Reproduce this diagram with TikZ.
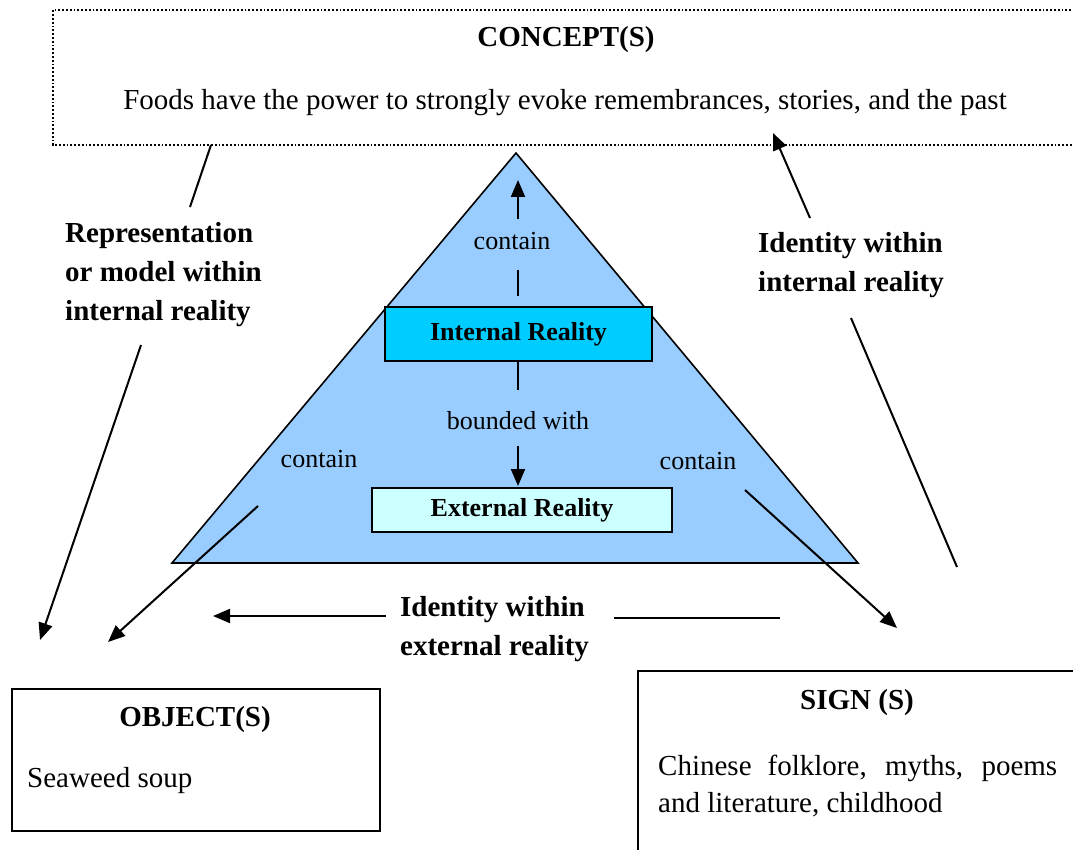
\documentclass[tikz,border=0pt]{standalone}
\usepackage{fontspec}
\setmainfont{Liberation Serif}
\usetikzlibrary{arrows.meta}
\definecolor{pyramid}{HTML}{99CCFF}
\definecolor{innerfill}{HTML}{00CCFF}
\definecolor{outerfill}{HTML}{CCFFFF}
\tikzset{
  bigtext/.style={font=\fontsize{29}{39}\selectfont, inner sep=0},
  bigbold/.style={font=\fontsize{29}{39}\selectfont\bfseries, inner sep=0},
  smalltext/.style={font=\fontsize{26}{32}\selectfont, inner sep=0},
  realitybox/.style={draw, line width=1.6, font=\fontsize{26}{32}\selectfont\bfseries},
  arrowline/.style={line width=2, -{Triangle[length=17,width=14]}},
  plainline/.style={line width=2},
}
\begin{document}
\begin{tikzpicture}[x=1pt,y=-1pt]
\clip (0,0) rectangle (1073,850);
\fill[white] (0,0) rectangle (1073,850);

% concept box (open to the right)
\draw[dotted, line width=1.8] (1090,10) -- (53,10) -- (53,145) -- (1090,145);
\node[bigbold] (concepttitle) at (566,40) {CONCEPT(S)};
\node[bigtext] (concepttext) at (565,103) {Foods have the power to strongly evoke remembrances, stories, and the past};

% pyramid
\coordinate (apex) at (516,153);
\coordinate (baseL) at (172,563);
\coordinate (baseR) at (858,563);
\filldraw[fill=pyramid, line width=1.6] (apex) -- (baseL) -- (baseR) -- cycle;

\node[realitybox, fill=innerfill, minimum width=267, minimum height=54] (internal) at (518.5,334) {Internal Reality};
\node[realitybox, fill=outerfill, minimum width=300, minimum height=44] (external) at (522,510) {External Reality};

% contain (upward)
\node[smalltext] (containup) at (512,241) {contain};
\coordinate (upA) at (518,296);
\coordinate (upB) at (518,270);
\coordinate (upC) at (518,219);
\coordinate (upD) at (518,180);
\draw[plainline] (upA) -- (upB);
\draw[arrowline] (upC) -- (upD);

% bounded with (downward)
\node[smalltext] (bounded) at (518,421) {bounded with};
\coordinate (bdTop) at (518,361);
\coordinate (bdA) at (518,390);
\coordinate (bdB) at (518,446);
\coordinate (bdTip) at (518,486);
\draw[plainline] (bdTop) -- (bdA);
\draw[arrowline] (bdB) -- (bdTip);

\node[smalltext] (containL) at (319,459) {contain};
\node[smalltext] (containR) at (698,461) {contain};

% side labels
\node[bigbold, align=left, anchor=west] (repr) at (65,275) {Representation\\or model within\\internal reality};
\node[bigbold, align=left, anchor=west] (idint) at (758,265) {Identity within\\internal reality};
\node[bigbold, align=left, anchor=west] (idext) at (400,629) {Identity within\\external reality};

% connectors
\coordinate (reprTop) at (211,145);
\coordinate (reprTopEnd) at (190,207);
\coordinate (reprLow) at (141,345);
\coordinate (reprTip) at (40,640);
\draw[plainline] (reprTop) -- (reprTopEnd);
\draw[arrowline] (reprLow) -- (reprTip);

\coordinate (idintLow) at (810,218);
\coordinate (idintTip) at (773,133);
\coordinate (idintA) at (851,318);
\coordinate (idintB) at (957,567);
\draw[arrowline] (idintLow) -- (idintTip);
\draw[plainline] (idintA) -- (idintB);

\coordinate (cLa) at (258,506);
\coordinate (cLb) at (108,642);
\coordinate (cRa) at (745,490);
\coordinate (cRb) at (897,628);
\draw[arrowline] (cLa) -- (cLb);
\draw[arrowline] (cRa) -- (cRb);

\coordinate (extLa) at (386,616);
\coordinate (extLb) at (213,616);
\coordinate (extRa) at (614,618);
\coordinate (extRb) at (780,618);
\draw[arrowline] (extLa) -- (extLb);
\draw[plainline] (extRa) -- (extRb);

% object box
\draw[line width=2] (12,689) rectangle (380,831);
\node[bigbold] (objtitle) at (195,720) {OBJECT(S)};
\node[bigtext, anchor=west] (objtext) at (27,781) {Seaweed soup};

% sign box (open to the right and bottom)
\draw[line width=2] (1090,671) -- (638,671) -- (638,870);
\node[bigbold] (signtitle) at (857,703) {SIGN (S)};
\node[font=\fontsize{29}{37}\selectfont, inner sep=0, align=left, anchor=west] (signtext) at (658,786)
  {\makebox[399pt][s]{Chinese folklore, myths, poems}\\and literature, childhood};
\end{tikzpicture}
\end{document}
